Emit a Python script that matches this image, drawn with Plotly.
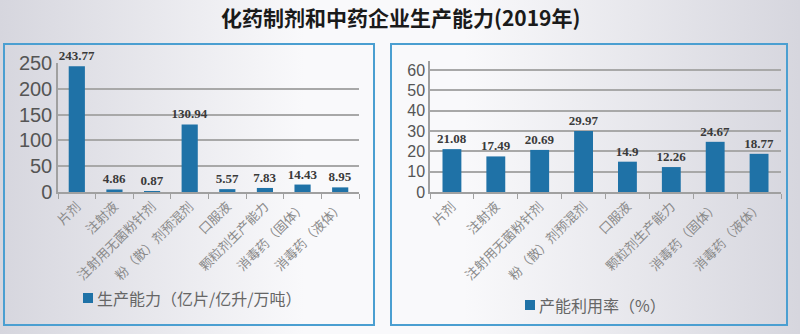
import base64
import plotly.graph_objects as go

categories = ["片剂", "注射液", "注射用无菌粉针剂", "粉（散）剂预混剂", "口服液", "颗粒剂生产能力", "消毒药（固体）", "消毒药（液体）"]
capacity = [243.77, 4.86, 0.87, 130.94, 5.57, 7.83, 14.43, 8.95]
utilization = [21.08, 17.49, 20.69, 29.97, 14.9, 12.26, 24.67, 18.77]
title = "化药制剂和中药企业生产能力(2019年)"
legend_left = "生产能力（亿片/亿升/万吨）"
legend_right = "产能利用率（%）"

W, H = 800, 334
BAR = "#1f72a7"
def fx(px): return px / W
def fy(py): return 1 - py / H

svg = ('<svg xmlns="http://www.w3.org/2000/svg" width="800" height="334" preserveAspectRatio="none">'
       '<defs><linearGradient id="g" x1="0" y1="0" x2="1" y2="0">'
       '<stop offset="0" stop-color="#d6d6de"/><stop offset="0.38" stop-color="#f9f9fb"/>'
       '<stop offset="0.58" stop-color="#f9f9fb"/><stop offset="1" stop-color="#d6d6de"/>'
       '</linearGradient></defs><rect width="800" height="334" fill="url(#g)"/></svg>')
bg_src = "data:image/svg+xml;base64," + base64.b64encode(svg.encode()).decode()

fig = go.Figure()
lblfont = dict(family="Liberation Serif", size=13, color="#3a3a3a", weight="bold")
fig.add_trace(go.Bar(x=categories, y=capacity, text=[f"{v:g}" for v in capacity], textposition="outside",
                     marker=dict(color=BAR, line=dict(width=0)), xaxis="x", yaxis="y",
                     textfont=lblfont, constraintext="none", cliponaxis=False, showlegend=False))
fig.add_trace(go.Bar(x=categories, y=utilization, text=[f"{v:g}" for v in utilization], textposition="outside",
                     marker=dict(color=BAR, line=dict(width=0)), xaxis="x2", yaxis="y2",
                     textfont=lblfont, constraintext="none", cliponaxis=False, showlegend=False))

tickfont_cat = dict(family="Noto Sans CJK SC", size=13, color="#8a8a8a")
common_x = dict(type="category", showgrid=False, showline=True, linecolor="#a0a0a0", linewidth=1.5,
                ticks="outside", tickson="boundaries", ticklen=5, tickcolor="#a0a0a0",
                tickangle=-45, tickfont=tickfont_cat, automargin=False)
common_y = dict(showgrid=True, gridcolor="#a8a8a8", gridwidth=1.5, showline=True, linecolor="#a0a0a0",
                linewidth=1.5, ticks="", zeroline=False, automargin=False)

fig.update_layout(
    width=W, height=H, margin=dict(l=0, r=0, t=0, b=0, autoexpand=False),
    paper_bgcolor="#e9e9ed", plot_bgcolor="rgba(0,0,0,0)",
    bargap=0.57,
    xaxis=dict(domain=[fx(58), fx(359)], anchor="y", **common_x),
    yaxis=dict(domain=[fy(192), fy(63)], anchor="x", range=[0, 250], dtick=50,
               tickfont=dict(family="Liberation Sans", size=20, color="#555555"), **common_y),
    xaxis2=dict(domain=[fx(430), fx(781)], anchor="y2", **common_x),
    yaxis2=dict(domain=[fy(192), fy(61)], anchor="x2", range=[0, 64.4], dtick=10,
                tickfont=dict(family="Liberation Sans", size=16, color="#555555"), **common_y),
    images=[dict(source=bg_src, xref="paper", yref="paper", x=0, y=1, sizex=1, sizey=1,
                 xanchor="left", yanchor="top", sizing="stretch", layer="below")],
)

# panels
for x0, x1 in [(4, 374), (391, 787)]:
    fig.add_shape(type="rect", xref="paper", yref="paper", x0=fx(x0), x1=fx(x1), y0=fy(325), y1=fy(44),
                  line=dict(color="#4b9fd1", width=2), fillcolor="rgba(0,0,0,0)", layer="below")

# title
fig.add_annotation(text=f"<b>{title}</b>", xref="paper", yref="paper", x=0.5, y=fy(17), yanchor="middle",
                   showarrow=False, font=dict(family="Noto Sans CJK SC", size=21, color="#1a1a1a"))

# legends
for sqx, sqy, txt in [(88, 298, legend_left), (530, 305, legend_right)]:
    fig.add_shape(type="rect", xref="paper", yref="paper", x0=fx(sqx - 5), x1=fx(sqx + 5),
                  y0=fy(sqy + 5), y1=fy(sqy - 5), fillcolor=BAR, line=dict(width=0))
    fig.add_annotation(text=txt, xref="paper", yref="paper", x=fx(sqx + 7), y=fy(sqy), xanchor="left",
                       yanchor="middle", showarrow=False,
                       font=dict(family="Noto Sans CJK SC", size=16, color="#666666"))

fig.write_html("out.html")
